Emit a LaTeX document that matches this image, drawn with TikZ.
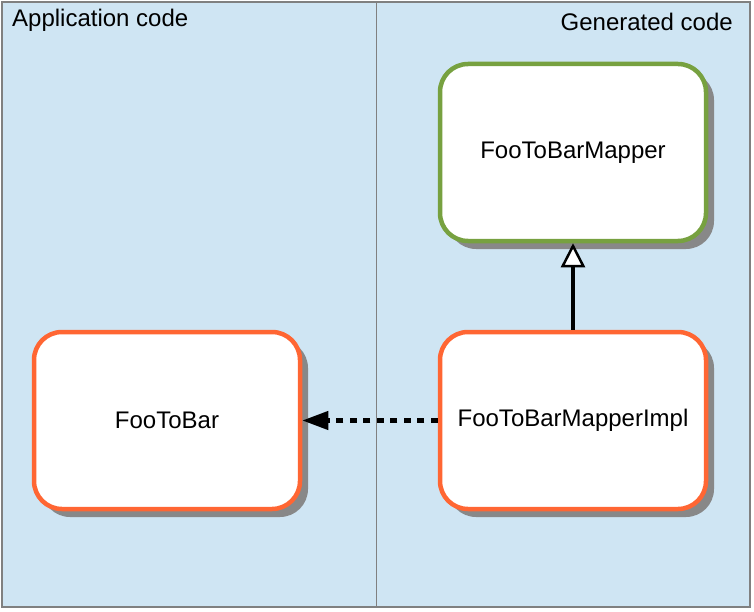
\documentclass[tikz,border=0pt]{standalone}
\usepackage{fontspec}
\setmainfont{Liberation Sans}
\usetikzlibrary{arrows.meta,shadows}
\definecolor{paneblue}{HTML}{CFE5F3}
\definecolor{boxorange}{HTML}{FF6633}
\definecolor{boxgreen}{HTML}{77A140}
\definecolor{framegray}{HTML}{808080}
\definecolor{shadowgray}{HTML}{888888}

\begin{document}
\begin{tikzpicture}[x=1pt, y=1pt, node distance=268pt, font=\fontsize{24}{28}\selectfont]
        % Define block styles
        \tikzstyle{block} = [rectangle, draw=boxorange, fill=white, line width=4.5pt, minimum width=266pt, minimum height=177pt, rounded corners=28pt, drop shadow={shadow xshift=8pt, shadow yshift=-8pt, fill=shadowgray, opacity=1}]
        \tikzstyle{pane} = [inner sep=0pt]
        \tikzstyle{dep} = [draw, line width=4.3pt, dash pattern=on 7pt off 6.5pt, -{Triangle[length=26pt, width=18pt]}]
        \tikzstyle{realize} = [draw, line width=4.3pt, -{Triangle[open, fill=white, length=24pt, width=24pt, line width=2.5pt]}]

        % Panes
        \useasboundingbox (0,0) rectangle (754,-612);
        \draw [framegray, fill=paneblue, line width=1.2pt] (2,-2) rectangle (750,-607);
        \draw [framegray, line width=1pt] (376,-2) -- (376,-607);
        \node [pane, anchor=base west] (appcode) at (12,-27) {Application code};
        \node [pane, anchor=base east] (gencode) at (733,-31) {Generated code};

        % Place nodes
        \node [block] (impl) at (573,-420.5) {FooToBarMapperImpl};
        \node [block, left of=impl, node distance=406pt] (footobar) {FooToBar};
        \node [block, above of=impl, draw=boxgreen] (mapper) {FooToBarMapper};

        % Draw edges
        \path [dep] (impl) -- (footobar);
        \path [realize] (impl) -- (mapper);
    \end{tikzpicture}
\end{document}
